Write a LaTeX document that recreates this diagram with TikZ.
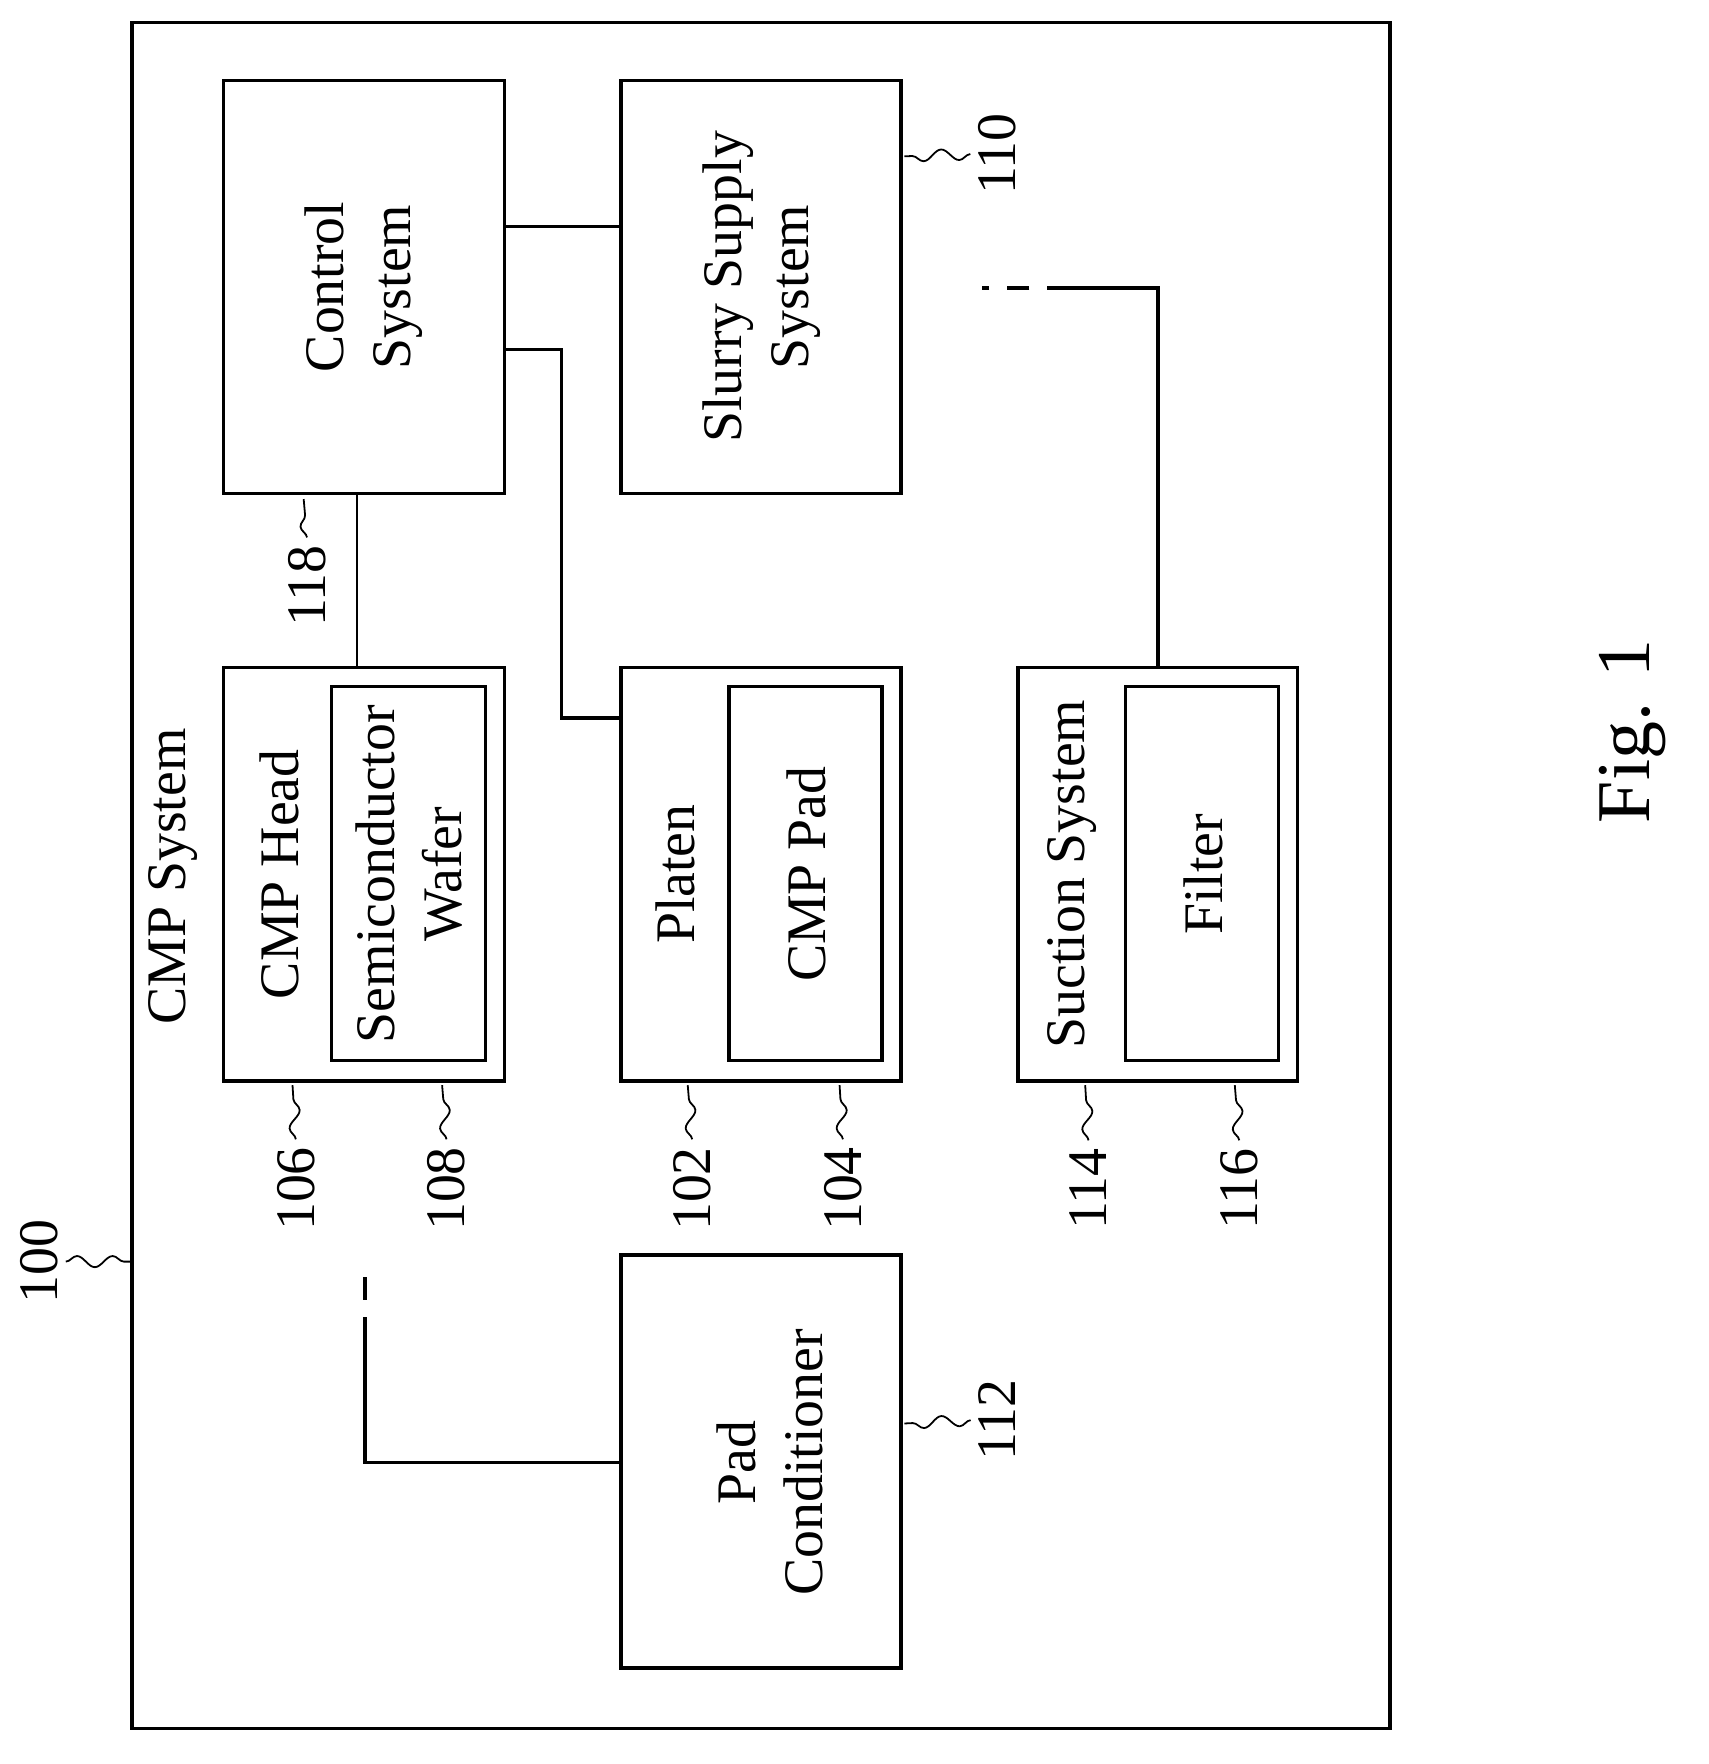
\documentclass[tikz,border=0pt]{standalone}
\usepackage{fontspec}
\setmainfont{Liberation Serif}
\usetikzlibrary{decorations.pathmorphing}
\begin{document}
\begin{tikzpicture}[x=0.5pt,y=-0.5pt,
  box/.style={draw,line width=1.6pt},
  txt/.style={rotate=90,align=center,font=\fontsize{25}{30}\selectfont},
  lbl/.style={rotate=90,font=\fontsize{25}{30}\selectfont},
  sq/.style={decorate,decoration={snake,amplitude=2.5pt,segment length=16pt},line width=0.8pt},
  ln/.style={line width=1.6pt},
  dsh/.style={line width=1.6pt,dash pattern=on 10pt off 8pt}]
\useasboundingbox (0,0) rectangle (1530,1580);
\draw[box] (118,20) rectangle (1245,1548);
\draw[box] (200,72) rectangle (452,442);
\node[txt] (ctrlt) at (326,257) {Control\\System};
\draw[box] (556,72) rectangle (807,442);
\node[txt] (slurry) at (682,257) {Slurry Supply\\System};
\draw[box] (200,598) rectangle (452,968);
\draw[box] (297,615) rectangle (435,950);
\node[txt] (head) at (250,783) {CMP Head};
\node[txt] (wafer) at (366,783) {Semiconductor\\Wafer};
\node[txt] (sys) at (155,785) {CMP System};
\draw[box] (556,598) rectangle (807,968);
\draw[box] (653,615) rectangle (790,950);
\node[txt] (platen) at (605,783) {Platen};
\node[txt] (pad) at (722,783) {CMP Pad};
\draw[box] (912,598) rectangle (1162,968);
\draw[box] (1008,615) rectangle (1145,950);
\node[txt] (suct) at (960,783) {Suction System};
\node[txt] (filt) at (1078,783) {Filter};
\draw[box] (556,1124) rectangle (807,1494);
\node[txt] (cond) at (690,1310) {Pad\\Conditioner};
% connectors
\coordinate (c1) at (452,203); \coordinate (s1) at (556,203);
\draw[ln] (c1) -- (s1);
\coordinate (c2) at (452,313); \coordinate (p1) at (556,643);
\draw[ln] (c2) -| (503,643) -- (p1);
\coordinate (c3) at (320,442); \coordinate (h1) at (320,598);
\draw[line width=1pt] (c3) -- (h1);
\coordinate (f1) at (1037,598); \coordinate (d1) at (958,258); \coordinate (d2) at (880,258);
\draw[ln] (f1) |- (d1);
\draw[dsh] (d1) -- (d2);
\coordinate (pc) at (556,1310); \coordinate (e1) at (327,1200); \coordinate (e2) at (327,1128);
\draw[ln] (pc) -| (e1);
\draw[dsh] (e1) -- (e2);
% labels
\node[lbl] (l100) at (35,1130) {100};
\node[lbl] (l110) at (893,138) {110};
\node[lbl] (l112) at (893,1272) {112};
\node[lbl] (l118) at (275,525) {118};
\node[lbl] (l106) at (265,1065) {106};
\node[lbl] (l108) at (400,1065) {108};
\node[lbl] (l102) at (620,1065) {102};
\node[lbl] (l104) at (755,1065) {104};
\node[lbl] (l114) at (975,1065) {114};
\node[lbl] (l116) at (1110,1065) {116};
\node[rotate=90,font=\fontsize{34}{40}\selectfont] (fig) at (1462,655) {Fig. 1};
\draw[sq] (l100.south) -- (118,1130);
\draw[sq] (l110.north) -- (810,140);
\draw[sq] (l112.north) -- (810,1275);
\draw[sq] (l118.east) -- (272,447);
\foreach \n/\x in {106/262,108/396,102/616,104/752,114/972,116/1106}
  \draw[sq] (l\n.east) -- (\x,972);
\end{tikzpicture}
\end{document}
